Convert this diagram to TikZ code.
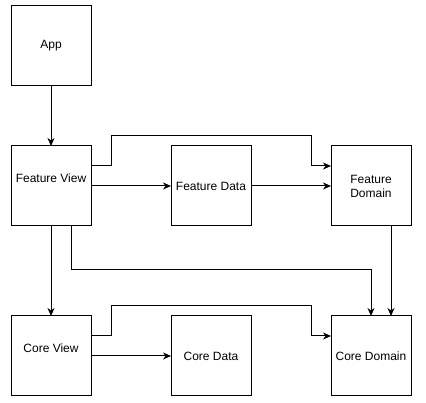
\documentclass[tikz,border=0pt]{standalone}
\usepackage{fontspec}
\setmainfont{Liberation Sans}
\usetikzlibrary{arrows.meta,calc}
\begin{document}
\begin{tikzpicture}[x=1pt,y=-1pt,
  box/.style={draw,line width=1pt,minimum width=80pt,minimum height=80pt,inner sep=0pt,outer sep=0pt,align=center,font=\fontsize{12}{14}\selectfont},
  arr/.style={line width=1pt,-{Stealth[length=8pt,width=7pt,inset=2.5pt]}}]
\useasboundingbox (0,0) rectangle (426,403);
\node[box] (app) at (51,46) {App};
\node[box,label={[font=\fontsize{12}{14}\selectfont,yshift=8pt]center:Feature View}] (fv) at (51,186) {};
\node[box] (fd) at (211,186) {Feature Data};
\node[box] (fdom) at (371,186) {Feature\\Domain};
\node[box,label={[font=\fontsize{12}{14}\selectfont,yshift=8pt]center:Core View}] (cv) at (51,356) {};
\node[box] (cd) at (211,356) {Core Data};
\node[box] (cdom) at (371,356) {Core Domain};
\draw[arr] (app) -- (fv);
\draw[arr] (fv) -- (fd);
\draw[arr] (fd) -- (fdom);
\draw[arr] ([yshift=20pt]fv.east) -- ++(20,0) -- ++(0,-30) -| ([xshift=-20pt,yshift=20pt]fdom.west) -- ([yshift=20pt]fdom.west);
\draw[arr] (fv) -- (cv);
\draw[arr] ([xshift=20pt]fv.south) -- ++(0,44) -| (cdom.north);
\draw[arr] ([xshift=20pt]fdom.south) -- ([xshift=20pt]cdom.north);
\draw[arr] (cv) -- (cd);
\draw[arr] ([yshift=20pt]cv.east) -- ++(20,0) -- ++(0,-30) -| ([xshift=-20pt,yshift=20pt]cdom.west) -- ([yshift=20pt]cdom.west);
\end{tikzpicture}
\end{document}
